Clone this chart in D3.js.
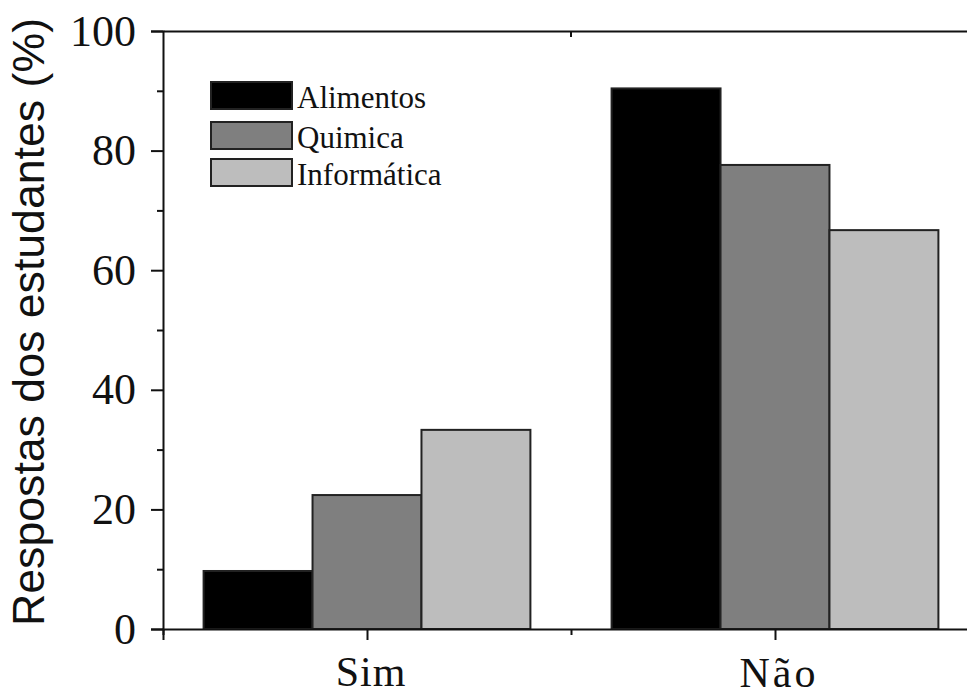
<!DOCTYPE html>
<html>
<head>
<meta charset="utf-8">
<script src="https://cdn.jsdelivr.net/npm/d3@7"></script>
<style>
  html, body { margin: 0; padding: 0; background: #fff; }
  svg { display: block; }
  .serif { font-family: "Liberation Serif", "Times New Roman", serif; }
  .sans { font-family: "Liberation Sans", Arial, sans-serif; }
</style>
</head>
<body>
<svg id="chart" width="967" height="697"></svg>
<script>
const categories = ["Sim", "Não"];
const categoryPositions = [1, 2];
const seriesNames = ["Alimentos", "Quimica", "Informática"];
const seriesColors = ["#000000", "#7f7f7f", "#bdbdbd"];
const alimentos = [9.7, 90.4];
const quimica = [22.4, 77.6];
const informatica = [33.3, 66.7];
const seriesValues = [alimentos, quimica, informatica];
const yTicks = [0, 20, 40, 60, 80, 100];
const yMinorTicks = [10, 30, 50, 70, 90];
const xMinorTicks = [0.5, 1.5, 2.5];

(function () {
const svg = d3.select("#chart");
const mLeft = 163, mTop = 31, mBottom = 629, mRight = 979;

const x = d3.scaleLinear().domain([0.5, 2.5]).range([mLeft, mRight]);
const y = d3.scaleLinear().domain([0, 100]).range([mBottom, mTop]);
const barW = 0.267; // in x units

// bars
seriesValues.forEach((vals, si) => {
  svg.append("g").selectAll("rect").data(vals).join("rect")
    .attr("x", (d, i) => x(categoryPositions[i] + (si - 1.5) * barW))
    .attr("width", (d, i) => x(categoryPositions[i] + (si - 0.5) * barW) - x(categoryPositions[i] + (si - 1.5) * barW))
    .attr("y", d => y(d))
    .attr("height", d => y(0) - y(d))
    .attr("fill", seriesColors[si])
    .attr("stroke", "#222")
    .attr("stroke-width", 2);
});

// left axis
const yAxis = d3.axisLeft(y).tickValues(yTicks).tickSize(12).tickPadding(15).tickFormat(d3.format("d"));
const gy = svg.append("g").attr("transform", `translate(${mLeft},0)`).call(yAxis);
gy.attr("font-family", null).attr("font-size", null);
gy.select(".domain").attr("stroke", "#111").attr("stroke-width", 2);
gy.selectAll(".tick line").attr("stroke", "#111").attr("stroke-width", 2);
gy.selectAll(".tick text").attr("class", "serif").style("font-size", "44px").attr("fill", "#111");
const gyMinor = d3.axisLeft(y).tickValues(yMinorTicks).tickSize(6).tickFormat("");
const gym = svg.append("g").attr("transform", `translate(${mLeft},0)`).call(gyMinor);
gym.select(".domain").remove();
gym.selectAll(".tick line").attr("stroke", "#111").attr("stroke-width", 2);

// bottom axis
const xAxis = d3.axisBottom(x).tickValues(categoryPositions).tickSize(11).tickFormat("");
const gx = svg.append("g").attr("transform", `translate(0,${mBottom})`).call(xAxis);
gx.select(".domain").attr("stroke", "#111").attr("stroke-width", 2);
gx.selectAll(".tick line").attr("stroke", "#111").attr("stroke-width", 2);
const gxm = svg.append("g").attr("transform", `translate(0,${mBottom})`)
  .call(d3.axisBottom(x).tickValues(xMinorTicks).tickSize(6).tickFormat(""));
gxm.select(".domain").remove();
gxm.selectAll(".tick line").attr("stroke", "#111").attr("stroke-width", 2);

// category labels
const labelY = [686, 687];
const labelSize = [42, 42];
svg.append("g").selectAll("text").data(categories).join("text")
  .attr("class", "serif")
  .attr("x", (d, i) => x(categoryPositions[i]) + 4)
  .attr("y", (d, i) => labelY[i])
  .attr("text-anchor", "middle")
  .style("font-size", (d, i) => labelSize[i] + "px")
  .style("letter-spacing", (d, i) => i === 1 ? "3px" : "1px")
  .attr("fill", "#111")
  .text(d => d);

// top axis
const gt = svg.append("g").attr("transform", `translate(0,${mTop})`)
  .call(d3.axisTop(x).tickValues([]).tickSizeOuter(0));
gt.select(".domain").attr("stroke", "#111").attr("stroke-width", 2);
svg.append("line").attr("x1", x(1.5)).attr("x2", x(1.5)).attr("y1", mTop).attr("y2", mTop + 6)
  .attr("stroke", "#111").attr("stroke-width", 2);

// y title
svg.append("text")
  .attr("class", "sans")
  .attr("transform", "translate(44,322) rotate(-90)")
  .attr("text-anchor", "middle")
  .style("font-size", "44px")
  .attr("textLength", 608)
  .attr("lengthAdjust", "spacingAndGlyphs")
  .attr("fill", "#111")
  .text("Respostas dos estudantes (%)");

// legend
const legendTop = [82, 122, 159];
const lg = svg.append("g");
seriesNames.forEach((name, i) => {
  lg.append("rect").attr("x", 211).attr("y", legendTop[i]).attr("width", 81).attr("height", 27)
    .attr("fill", seriesColors[i]).attr("stroke", "#222").attr("stroke-width", 2);
  lg.append("text").attr("class", "serif").attr("x", 297).attr("y", legendTop[i] + 26)
    .style("font-size", "31px")
    .attr("fill", "#111").text(name);
});
})();
</script>
</body>
</html>
